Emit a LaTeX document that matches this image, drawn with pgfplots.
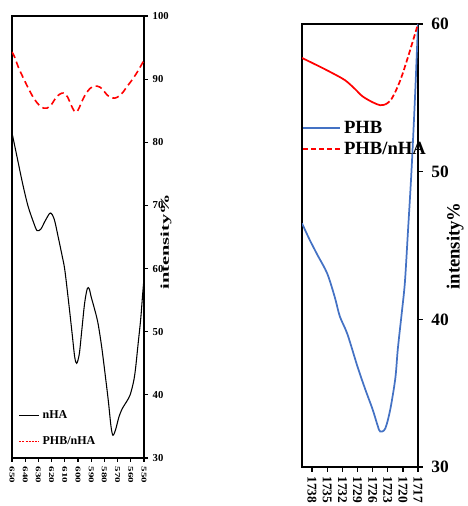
\documentclass[border=0pt]{standalone}
\usepackage{fontspec}
\setmainfont{Liberation Serif}
\usepackage{pgfplots}
\pgfplotsset{compat=1.18}
\definecolor{phbblue}{RGB}{68,114,196}
\begin{document}
\begin{tikzpicture}
\path[use as bounding box] (0,0) rectangle (350.25pt,379.5pt);
% ---------------- left panel ----------------
\begin{axis}[
  at={(9pt,36pt)}, anchor=south west,
  scale only axis, width=99pt, height=331.5pt,
  x dir=reverse, xmin=550, xmax=650, ymin=30, ymax=100,
  xtick={550,560,...,650}, ytick={30,40,...,100},
  xtick pos=bottom, ytick pos=right, yticklabel pos=right,
  tick align=outside, major tick length=3pt,
  axis line style={line width=1.5pt},
  every tick/.style={black, line width=0.8pt},
  /pgf/number format/assume math mode=true,
  xticklabel style={font=\fontsize{5.5}{6}\selectfont\bfseries, rotate=-90, anchor=west, xscale=1.0, yshift=0pt},
  xticklabel={\scalebox{1.5}[1]{\pgfmathprintnumber{\tick}}},
  yticklabel style={font=\fontsize{8}{9}\selectfont\bfseries},
  ylabel={\scalebox{1.7}[1]{intensity\%}},
  ylabel style={at={(axis description cs:1.167,0.489)}, anchor=center, font=\fontsize{9}{10}\selectfont\bfseries},
  legend style={at={(axis description cs:0.05,0.02)}, anchor=south west, draw=none, fill=none,
    font=\fontsize{9}{10}\selectfont\bfseries, row sep=8pt, inner sep=0pt},
  legend cell align=left,
  legend image code/.code={\draw[#1] (0pt,0pt) -- (15pt,0pt);},
]
\addplot[black, line width=0.8pt, smooth] coordinates {
(650,81.5) (646,77.5) (642,73.5) (638,70) (634,67.5) (631,66) (628,66.3) (625,67.5) (621,68.8) (618,67.8) (615,65) (612,62) (610,59.8) (607,54.5) (604.5,49.8) (602.5,46) (601,45) (599,46.5) (597,50.5) (595,54.5) (593,56.8) (591.5,56.8) (590,55.5) (588,54) (585,51.5) (582,47.5) (579,42.5) (577,39) (575,35) (573.5,33.6) (571.5,34.5) (569,36.5) (566.5,37.8) (563,39) (560.5,40) (558,42) (556.5,44) (554.5,48) (552.5,52) (551,56) (550,58.5)
};
\addlegendentry{nHA}
\addplot[red, line width=1.2pt, smooth, dash pattern=on 5pt off 3pt, forget plot] coordinates {
(650,94.3) (648,93.5) (645,91.8) (641,90) (637,88.3) (633,86.8) (629,85.8) (626,85.4) (623.5,85.4) (620,86) (617,87) (614,87.6) (611,87.8) (608,87.2) (605,85.8) (603,85) (601,84.8) (599,85.5) (597,86.5) (594,87.7) (591,88.5) (588,88.9) (585.5,88.9) (583,88.7) (581,88.3) (578,87.5) (575,87.1) (572,87) (569,87.3) (566,87.9) (563,88.8) (560,89.6) (557,90.5) (554,91.5) (550,93)
};
\addlegendimage{red, line width=0.6pt, dash pattern=on 1.5pt off 0.8pt}
\addlegendentry{PHB/nHA}
\end{axis}
% ---------------- right panel ----------------
\begin{axis}[
  at={(226.5pt,29.25pt)}, anchor=south west,
  scale only axis, width=87pt, height=332.25pt,
  x dir=reverse, xmin=1717, xmax=1740, ymin=30, ymax=60,
  xtick={1717,1720,...,1738}, ytick={30,40,50,60},
  xtick pos=bottom, ytick pos=right, yticklabel pos=right,
  tick align=outside, major tick length=3.5pt,
  axis line style={line width=1.5pt},
  every tick/.style={black, line width=1pt},
  /pgf/number format/assume math mode=true,
  /pgf/number format/1000 sep={},
  xticklabel style={font=\fontsize{10}{11}\selectfont\bfseries, rotate=-90, anchor=west},
  yticklabel style={font=\fontsize{13}{14}\selectfont\bfseries, xshift=3pt},
  ylabel={intensity\%},
  ylabel style={at={(axis description cs:1.32,0.499)}, anchor=center, font=\fontsize{14}{15}\selectfont\bfseries},
  legend style={at={(axis description cs:0,0.788)}, anchor=north west, draw=none, fill=none,
    font=\fontsize{14}{15}\selectfont\bfseries, row sep=1pt, inner sep=0pt, overlay},
  legend cell align=left,
  legend image code/.code={\draw[#1] (0pt,0pt) -- (28pt,0pt);},
]
\addplot[phbblue, line width=1.3pt, smooth] coordinates {
(1740,46.5) (1738.5,45.4) (1737,44.4) (1735,43.1) (1733.5,41.5) (1732.5,40.2) (1731,39) (1729,36.8) (1727.5,35.3) (1726,33.9) (1725,32.8) (1724.5,32.4) (1723.5,32.6) (1722.5,33.9) (1721.5,36) (1721,38) (1720.2,40.5) (1719.6,42.5) (1719,45.9) (1718.3,50) (1717.6,55) (1717,60)
};
\addlegendentry{PHB}
\addplot[red, line width=1.3pt, smooth, forget plot] coordinates {
(1740,57.7) (1737,57.2) (1734.4,56.75) (1731.5,56.2) (1729.5,55.6) (1728,55.1) (1726,54.7) (1724.5,54.5) (1723.5,54.55)
};
\addplot[red, line width=1.3pt, smooth, dash pattern=on 4pt off 2pt] coordinates {
(1723.5,54.55) (1722.5,54.8) (1721.5,55.4) (1720.5,56.2) (1719.6,57.1) (1718.5,58.3) (1717,60)
};
\addlegendentry{PHB/nHA}
\end{axis}
\end{tikzpicture}
\end{document}
